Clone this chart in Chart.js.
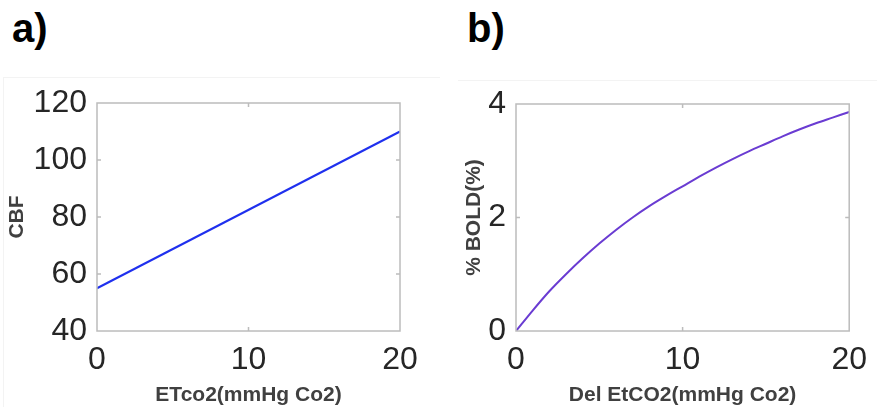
<!DOCTYPE html>
<html><head><meta charset="utf-8">
<script src="https://cdn.jsdelivr.net/npm/chart.js@4/dist/chart.umd.min.js"></script>
<style>
html,body{margin:0;padding:0;background:#fff;width:877px;height:411px;overflow:hidden;}
.box{position:absolute;top:0;height:411px;}
.lbl{position:absolute;font-family:"Liberation Sans",Arial,sans-serif;font-weight:bold;font-size:40px;color:#000;line-height:1;}
.faint{position:absolute;background:#f3f3f3;}
</style></head><body>
<div class="faint" style="left:3px;top:77px;width:437px;height:1px;"></div>
<div class="faint" style="left:3px;top:77px;width:1px;height:330px;"></div>
<div class="faint" style="left:458px;top:80px;width:419px;height:1px;"></div>
<div class="lbl" style="left:12px;top:8px;">a)</div>
<div class="lbl" style="left:467px;top:8px;">b)</div>
<div class="box" style="left:0;width:435px;"><canvas id="c1"></canvas></div>
<div class="box" style="left:440px;width:437px;"><canvas id="c2"></canvas></div>
<script>
// Panel a
const xA = [0, 20];
const cbf = [55, 110];
const yTicksA = [40, 60, 80, 100, 120];
// Panel b
const xB = [0, 1, 2, 3, 4, 5, 6, 7, 8, 9, 10, 11, 12, 13, 14, 15, 16, 17, 18, 19, 20];
const bold = [0, 0.36, 0.70, 1.00, 1.28, 1.54, 1.78, 2.00, 2.20, 2.38, 2.55, 2.72, 2.88, 3.03, 3.17, 3.30, 3.43, 3.55, 3.66, 3.76, 3.86];
const yTicksB = [0, 2, 4];
const xTicks = [0, 10, 20];

const FONT = '"Liberation Sans", Arial, sans-serif';

const framePlugin = {
  id: 'frame',
  afterDatasetsDraw(chart) {
    const {ctx, chartArea: a, scales} = chart;
    ctx.save();
    ctx.strokeStyle = '#bcbcbc';
    ctx.lineWidth = 1.5;
    ctx.strokeRect(a.left, a.top, a.right - a.left, a.bottom - a.top);
    const L = 4;
    ctx.beginPath();
    scales.x.ticks.forEach(t => {
      const px = scales.x.getPixelForValue(t.value);
      if (px <= a.left + 1 || px >= a.right - 1) return;
      ctx.moveTo(px, a.bottom); ctx.lineTo(px, a.bottom - L);
      ctx.moveTo(px, a.top); ctx.lineTo(px, a.top + L);
    });
    scales.y.ticks.forEach(t => {
      const py = scales.y.getPixelForValue(t.value);
      if (py <= a.top + 1 || py >= a.bottom - 1) return;
      ctx.moveTo(a.left, py); ctx.lineTo(a.left + L, py);
      ctx.moveTo(a.right, py); ctx.lineTo(a.right - L, py);
    });
    ctx.stroke();
    ctx.restore();
  }
};

function makeChart(id, xs, ys, color, yTicks, yMin, yMax, yTitle, xTitle, yW, padR, padT, yTitlePad) {
  const data = xs.map((x, i) => ({x, y: ys[i]}));
  return new Chart(document.getElementById(id), {
    type: 'scatter',
    data: {datasets: [{data, showLine: true, borderColor: color, borderWidth: 2, pointRadius: 0, cubicInterpolationMode: 'monotone', fill: false}]},
    options: {
      responsive: true, maintainAspectRatio: false, animation: false,
      devicePixelRatio: 1,
      plugins: {legend: {display: false}, tooltip: {enabled: false}},
      layout: {padding: {top: padT, right: padR, left: 0, bottom: 0}},
      scales: {
        x: {
          type: 'linear', min: 0, max: 20,
          afterBuildTicks: s => { s.ticks = xTicks.map(v => ({value: v})); },
          afterFit: s => { s.height = 80; },
          grid: {display: false, drawTicks: false},
          border: {display: false},
          ticks: {font: {family: FONT, size: 32}, color: '#262626', padding: 10, maxRotation: 0},
          title: {display: true, text: xTitle, font: {family: FONT, size: 21, weight: 'bold'}, color: '#404040', padding: {top: 0, bottom: 3}}
        },
        y: {
          type: 'linear', min: yMin, max: yMax,
          afterBuildTicks: s => { s.ticks = yTicks.map(v => ({value: v})); },
          afterFit: s => { s.width = yW; },
          grid: {display: false, drawTicks: false},
          border: {display: false},
          ticks: {font: {family: FONT, size: 32}, color: '#262626', padding: 10},
          title: {display: true, text: yTitle, font: {family: FONT, size: 21, weight: 'bold'}, color: '#404040', padding: {top: yTitlePad, bottom: 0}}
        }
      }
    },
    plugins: [framePlugin]
  });
}

makeChart('c1', xA, cbf, '#1f30ee', yTicksA, 40, 120, 'CBF', 'ETco2(mmHg Co2)', 97, 35, 103, 5);
makeChart('c2', xB, bold, '#6a3cd2', yTicksB, 0, 4, '% BOLD(%)', 'Del EtCO2(mmHg Co2)', 76, 24, 104, 22);
</script>
</body></html>
